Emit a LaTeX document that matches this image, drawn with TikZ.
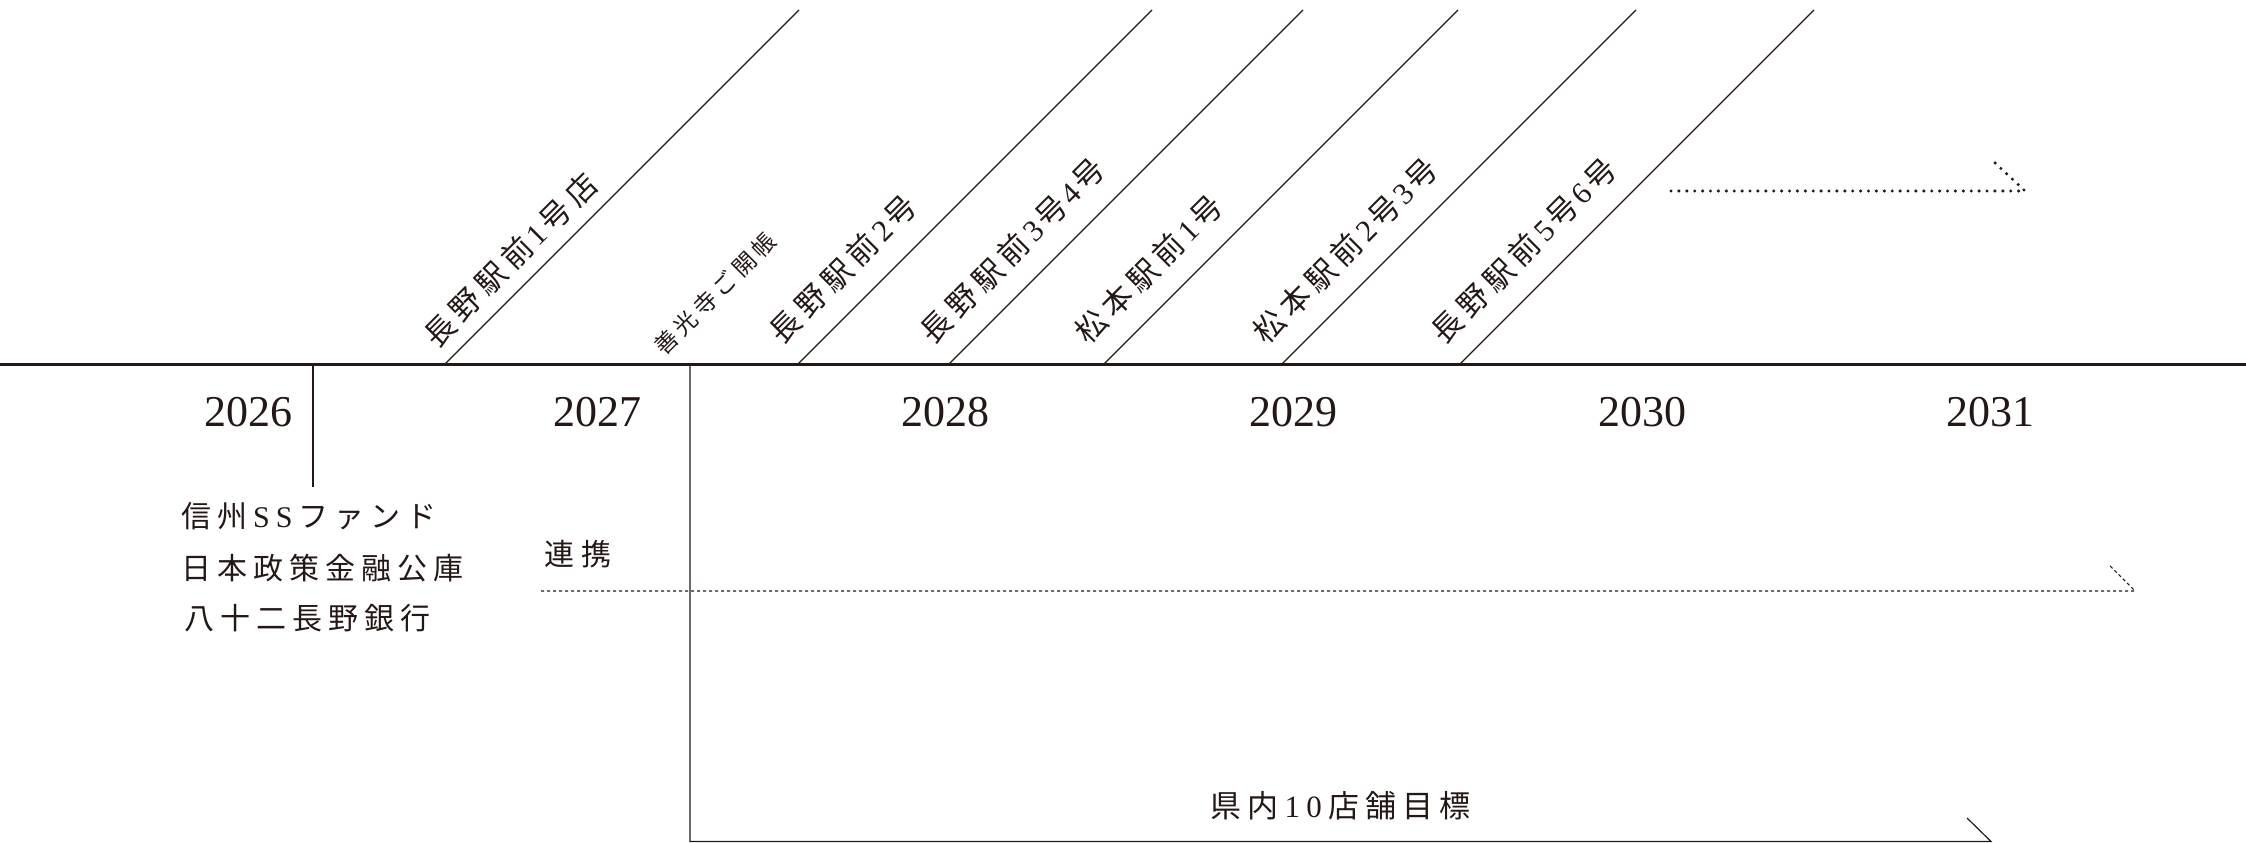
\documentclass[tikz,border=0pt]{standalone}
\usepackage{fontspec}
\setmainfont{Liberation Serif}
\newfontfamily\jpfont[LetterSpace=20]{Noto Sans CJK JP}
\newfontfamily\latfont[LetterSpace=20]{Liberation Serif}
\newcommand{\lat}[1]{{\kern0.2em\latfont #1\kern0.2em}}
\newcommand{\latn}[1]{{\kern0.12em\latfont #1\kern0.12em}}
\definecolor{ink}{HTML}{231815}

\begin{document}
\begin{tikzpicture}[x=1pt, y=1pt,
    axisline/.style={draw=ink, line width=3pt},
    stemline/.style={draw=ink, line width=1.2pt},
    dotrun/.style={draw=ink, line width=3.4pt, line cap=round, dash pattern=on 0pt off 7.9pt},
    dashrun/.style={draw=ink, line width=1.1pt, dash pattern=on 3.2pt off 2.8pt},
    yearlabel/.style={anchor=base, inner sep=0pt, text=ink, font=\fontsize{44pt}{44pt}\selectfont},
    storelabel/.style={rotate=45, anchor=base west, inner sep=0pt, text=ink,
        font=\fontsize{30.5pt}{30.5pt}\selectfont\jpfont},
    eventlabel/.style={storelabel, font=\fontsize{23pt}{23pt}\selectfont\jpfont},
    fundlabel/.style={anchor=base west, inner sep=0pt, text=ink,
        font=\fontsize{30pt}{30pt}\selectfont\jpfont}
]
\useasboundingbox (0,0) rectangle (2246,843);

% time axis
\coordinate (axisL) at (0,478);
\coordinate (axisR) at (2246,478);
\draw[axisline] (axisL) -- (axisR);

% years
\foreach \yr/\x in {2026/248.5, 2027/597, 2028/945, 2029/1293.5, 2030/1642, 2031/1990}
    \node[yearlabel] (y\yr) at (\x,416) {\yr};

% store openings
\foreach \n/\x in {1/444, 2/797, 3/948, 4/1103, 5/1281, 6/1459} {
    \coordinate (foot\n) at (\x,478);
    \coordinate (tip\n) at (\x+355,833);
    \draw[stemline] (foot\n) -- (tip\n);
}
\node[storelabel] (store1) at ([shift={(135:16)},shift={(45:6)}]foot1) {長野駅前\latn{1}号店};
\node[storelabel] (store2) at ([shift={(135:24)},shift={(45:3)}]foot2) {長野駅前\latn{2}号};
\node[storelabel] (store3) at ([shift={(135:24)},shift={(45:3)}]foot3) {長野駅前\latn{3}号\latn{4}号};
\node[storelabel] (store4) at ([shift={(135:24)},shift={(45:3)}]foot4) {松本駅前\latn{1}号};
\node[storelabel] (store5) at ([shift={(135:24)},shift={(45:3)}]foot5) {松本駅前\latn{2}号\latn{3}号};
\node[storelabel] (store6) at ([shift={(135:24)},shift={(45:3)}]foot6) {長野駅前\latn{5}号\latn{6}号};
\node[eventlabel] (event) at (664,486) {善光寺ご開帳};

% more stores to come
\coordinate (moreA) at (1671,652);
\coordinate (moreB) at (2025,652);
\coordinate (moreC) at (1993,682);
\draw[dotrun] (moreA) -- (moreB) -- (moreC);

% funding partners
\coordinate (fundtop) at (313,478);
\coordinate (fundbot) at (313,356);
\draw[stemline] (fundtop) -- (fundbot);
\node[fundlabel] (fund1) at (181,315) {信州\lat{SS}ファンド};
\node[fundlabel] (fund2) at (181,263) {日本政策金融公庫};
\node[fundlabel] (fund3) at (184,213) {八十二長野銀行};

% cooperation
\node[fundlabel] (link) at (544,277) {連\kern7pt 携};
\coordinate (linkA) at (541,252);
\coordinate (linkB) at (2135,252);
\coordinate (linkC) at (2110,277);
\draw[dashrun] (linkA) -- (linkB) -- (linkC);

% target
\coordinate (goalA) at (690,478);
\coordinate (goalB) at (1991,1.5);
\coordinate (goalC) at (1967,25);
\draw[stemline] (goalA) |- (goalB) -- (goalC);
\node[fundlabel, font=\fontsize{31pt}{31pt}\selectfont\jpfont] (goal) at (1210,25) {県内\lat{10}店舗目標};
\end{tikzpicture}
\end{document}
